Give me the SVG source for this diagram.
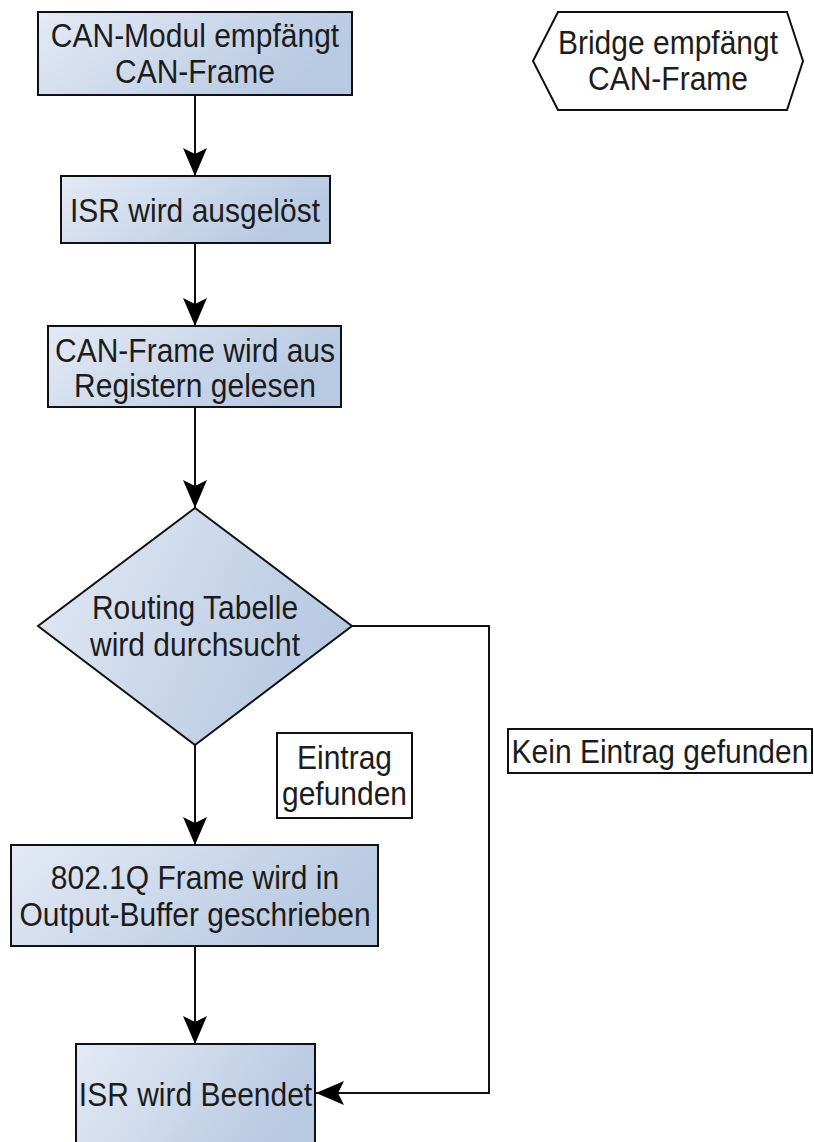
<svg xmlns="http://www.w3.org/2000/svg" width="814" height="1142" viewBox="0 0 814 1142">
<style>
.node{stroke:#111;stroke-width:2;fill:url(#g)}
.lbl{stroke:#111;stroke-width:2;fill:#fff}
.t{font-family:"Liberation Sans",Arial,sans-serif;font-size:30px;fill:#1c1c1c;text-anchor:middle}
.edge{stroke:#111;stroke-width:2;fill:none}
</style>
<defs>
<linearGradient id="g" x1="0" y1="0" x2="1" y2="0.35">
<stop offset="0" stop-color="#e4eaf5"/>
<stop offset="1" stop-color="#b8c9e2"/>
</linearGradient>
<marker id="arr" markerUnits="userSpaceOnUse" viewBox="-30 -14 32 28" markerWidth="32" markerHeight="28" refX="0" refY="0" orient="auto">
<path d="M0,0 L-28,-12 L-22,0 L-28,12 Z" fill="#000"/>
</marker>
</defs>
<g id="connectors">
<path class="edge" d="M195,95 V176" marker-end="url(#arr)"/>
<path class="edge" d="M195,243 V326" marker-end="url(#arr)"/>
<path class="edge" d="M195,407 V508" marker-end="url(#arr)"/>
<path class="edge" d="M195,745 V845" marker-end="url(#arr)"/>
<path class="edge" d="M195,946 V1044" marker-end="url(#arr)"/>
<path class="edge" d="M352,626 H489 V1093 H316" marker-end="url(#arr)"/>
</g>
<g id="n1">
<rect class="node" x="38" y="12" width="314" height="83"/>
<text class="t" transform="translate(195,47) scale(1,1.12)">CAN-Modul empfängt</text>
<text class="t" transform="translate(195,83) scale(1,1.12)">CAN-Frame</text>
</g>
<g id="bridge">
<path d="M533,61 L558,12 H787 L803,61 L787,110 H558 Z" fill="#fff" stroke="#111" stroke-width="2"/>
<text class="t" transform="translate(668,54) scale(1,1.12)">Bridge empfängt</text>
<text class="t" transform="translate(668,90) scale(1,1.12)">CAN-Frame</text>
</g>
<g id="n2">
<rect class="node" x="61" y="176" width="269" height="67"/>
<text class="t" transform="translate(195,222) scale(1,1.12)">ISR wird ausgelöst</text>
</g>
<g id="n3">
<rect class="node" x="48" y="326" width="293" height="81"/>
<text class="t" transform="translate(195,362) scale(1,1.12)">CAN-Frame wird aus</text>
<text class="t" transform="translate(195,397) scale(1,1.12)">Registern gelesen</text>
</g>
<g id="decision">
<path class="node" d="M195,508 L352,626 L195,745 L38,626 Z"/>
<text class="t" transform="translate(195,619) scale(1,1.12)">Routing Tabelle</text>
<text class="t" transform="translate(195,656) scale(1,1.12)">wird durchsucht</text>
</g>
<g id="label-yes">
<rect class="lbl" x="277" y="733" width="135" height="85"/>
<text class="t" transform="translate(344.5,769) scale(1,1.12)">Eintrag</text>
<text class="t" transform="translate(344.5,805) scale(1,1.12)">gefunden</text>
</g>
<g id="label-no">
<rect class="lbl" x="508" y="729" width="304" height="44"/>
<text class="t" transform="translate(660,763) scale(1,1.12)">Kein Eintrag gefunden</text>
</g>
<g id="n4">
<rect class="node" x="11" y="845" width="367" height="101"/>
<text class="t" transform="translate(195,889) scale(1,1.12)">802.1Q Frame wird in</text>
<text class="t" transform="translate(195,926) scale(1,1.12)">Output-Buffer geschrieben</text>
</g>
<g id="n5">
<rect class="node" x="76" y="1044" width="239" height="120"/>
<text class="t" transform="translate(195.5,1106) scale(1,1.12)">ISR wird Beendet</text>
</g>
</svg>
